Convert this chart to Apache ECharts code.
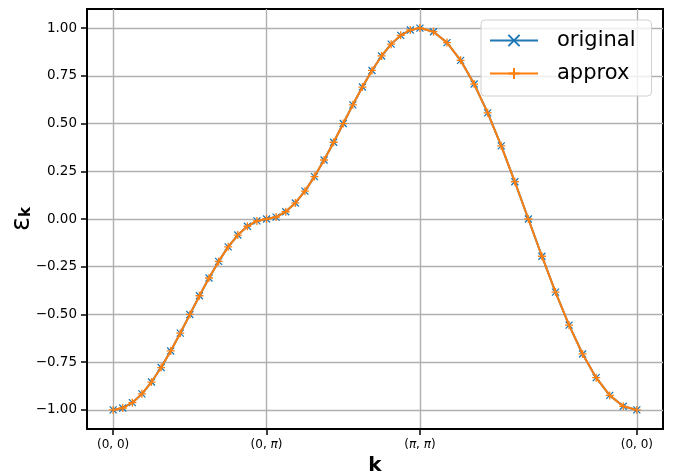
<!DOCTYPE html>
<html>
<head>
<meta charset="utf-8">
<script src="https://cdn.jsdelivr.net/npm/echarts@6/dist/echarts.min.js"></script>
<style>
  html, body { margin: 0; padding: 0; background: #fff; }
  #main { width: 681px; height: 474px; }
</style>
</head>
<body>
<div id="main"></div>
<script>
  // position along the k-path (0,0) -> (0,pi) -> (pi,pi) -> (0,0)
  var pathPos = [
    0.000, 0.196, 0.393, 0.589, 0.785, 0.982, 1.178, 1.374, 1.571, 1.767, 1.963, 2.160, 2.356, 2.553, 2.749, 2.945, 3.142,
    3.338, 3.534, 3.731, 3.927, 4.123, 4.320, 4.516, 4.712, 4.909, 5.105, 5.301, 5.498, 5.694, 5.890, 6.087, 6.283,
    6.561, 6.838, 7.116, 7.394, 7.671, 7.949, 8.227, 8.504, 8.782, 9.060, 9.338, 9.615, 9.893, 10.171, 10.448, 10.726
  ];
  var original = [
    -1.000, -0.990, -0.962, -0.916, -0.854, -0.778, -0.691, -0.598, -0.500, -0.402, -0.309, -0.222, -0.146, -0.084, -0.038, -0.010, 0.000,
    0.010, 0.038, 0.084, 0.146, 0.222, 0.309, 0.402, 0.500, 0.598, 0.691, 0.778, 0.854, 0.916, 0.962, 0.990, 1.000,
    0.981, 0.924, 0.831, 0.707, 0.556, 0.383, 0.195, 0.000, -0.195, -0.383, -0.556, -0.707, -0.831, -0.924, -0.981, -1.000
  ];
  var approx = [
    -1.000, -0.990, -0.962, -0.916, -0.854, -0.778, -0.691, -0.598, -0.500, -0.402, -0.309, -0.222, -0.146, -0.084, -0.038, -0.010, 0.000,
    0.010, 0.038, 0.084, 0.146, 0.222, 0.309, 0.402, 0.500, 0.598, 0.691, 0.778, 0.854, 0.916, 0.962, 0.990, 1.000,
    0.981, 0.924, 0.831, 0.707, 0.556, 0.383, 0.195, 0.000, -0.195, -0.383, -0.556, -0.707, -0.831, -0.924, -0.981, -1.000
  ];
  var kTicks = [0, 3.1416, 6.2832, 10.7261];
  var kLabels = ['(0, 0)', '(0, {i|π})', '({i|π}, {i|π})', '(0, 0)'];
  var eTicks = [-1, -0.75, -0.5, -0.25, 0, 0.25, 0.5, 0.75, 1];

  var myChart = echarts.init(document.getElementById('main'));

  function pairs(xs, ys) {
    var out = [];
    for (var i = 0; i < xs.length; i++) out.push([xs[i], ys[i]]);
    return out;
  }

  var option = {
    animation: false,
    textStyle: { fontFamily: 'DejaVu Sans' },
    grid: {
      left: 87, right: 18, top: 9, bottom: 45,
      outerBoundsMode: 'none',
      containLabel: false,
      show: true, borderColor: '#000', borderWidth: 2
    },
    legend: {
      orient: 'vertical',
      left: 481, top: 20,
      padding: [10, 16, 12, 8],
      itemWidth: 48, itemHeight: 14, itemGap: 12,
      backgroundColor: 'rgba(255,255,255,0.8)',
      borderColor: '#d0d0d0', borderWidth: 1, borderRadius: 4,
      textStyle: { fontSize: 21, color: '#000', padding: [0, 0, 0, 14] },
      data: ['original', 'approx']
    },
    xAxis: {
      type: 'value',
      min: -0.536, max: 11.262,
      name: 'k',
      nameLocation: 'middle',
      nameGap: 27,
      nameMoveOverlap: false,
      nameTextStyle: { fontSize: 20, fontWeight: 'bold', color: '#000' },
      axisLine: { show: true, onZero: false, lineStyle: { color: '#000', width: 2 } },
      axisTick: { show: true, length: 6, customValues: kTicks, lineStyle: { color: '#000', width: 1.5 } },
      axisLabel: {
        customValues: kTicks,
        margin: 10, fontSize: 12, color: '#000',
        formatter: function (v) {
          var best = 0;
          for (var i = 1; i < kTicks.length; i++) {
            if (Math.abs(kTicks[i] - v) < Math.abs(kTicks[best] - v)) best = i;
          }
          return kLabels[best];
        },
        rich: { i: { fontStyle: 'italic', fontSize: 12, color: '#000' } }
      },
      splitLine: { show: true, lineStyle: { color: '#b0b0b0', width: 1.4 } }
    },
    yAxis: {
      type: 'value',
      min: -1.1, max: 1.1,
      name: '{e|ε}{k|k}',
      nameLocation: 'middle',
      nameRotate: 90,
      nameGap: 52,
      nameMoveOverlap: false,
      nameTextStyle: {
        rich: {
          e: { fontSize: 26, color: '#000', fontFamily: 'DejaVu Sans' },
          k: { fontSize: 15, fontWeight: 'bold', color: '#000', padding: [9, 0, 0, 0] }
        }
      },
      axisLine: { show: true, onZero: false, lineStyle: { color: '#000', width: 2 } },
      axisTick: { show: true, length: 6, customValues: eTicks, lineStyle: { color: '#000', width: 1.5 } },
      axisLabel: {
        customValues: eTicks,
        margin: 10, fontSize: 13.5, color: '#000',
        formatter: function (v) { return v.toFixed(2).replace('-', '\u2212'); }
      },
      splitLine: { show: true, lineStyle: { color: '#b0b0b0', width: 1.4 } }
    },
    series: [
      {
        name: 'original',
        type: 'line',
        data: pairs(pathPos, original),
        symbol: 'path://M0,0L10,10M0,10L10,0',
        symbolSize: 7,
        showAllSymbol: true,
        lineStyle: { color: '#1f77b4', width: 2 },
        itemStyle: { color: '#1f77b4', borderColor: '#1f77b4', borderWidth: 1.3 },
        emphasis: { disabled: true },
        z: 3
      },
      {
        name: 'approx',
        type: 'line',
        data: pairs(pathPos, approx),
        symbol: 'path://M5,0L5,10M0,5L10,5',
        symbolSize: 8,
        showAllSymbol: true,
        lineStyle: { color: '#ff7f0e', width: 2 },
        itemStyle: { color: '#ff7f0e', borderColor: '#ff7f0e', borderWidth: 1.3 },
        emphasis: { disabled: true },
        z: 4
      }
    ]
  };

  myChart.setOption(option);
</script>
</body>
</html>
